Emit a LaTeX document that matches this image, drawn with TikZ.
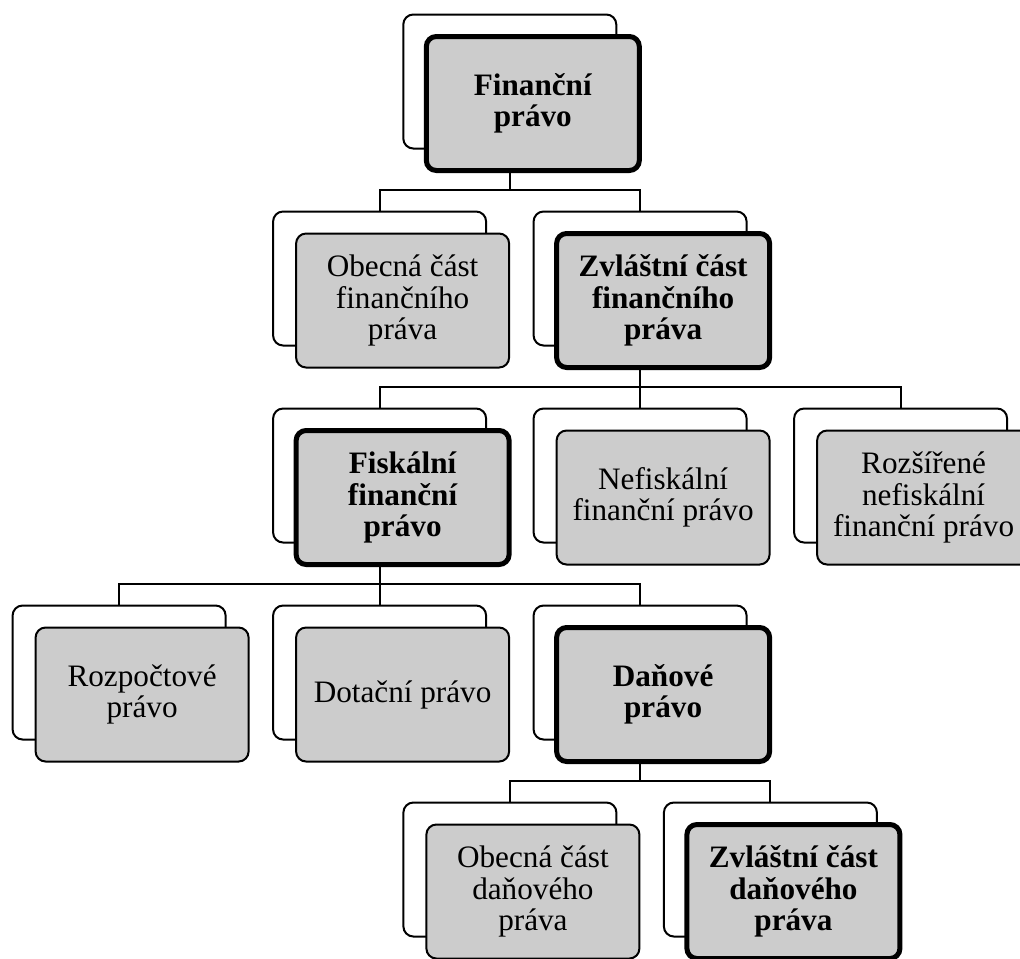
\documentclass[tikz,border=0pt]{standalone}
\usepackage{fontspec}
\setmainfont{Liberation Serif}
\usepackage{xcolor}
\usepackage{tikz}
\usetikzlibrary{positioning, calc}

\definecolor{boxgray}{RGB}{204,204,204}

\begin{document}
\begin{tikzpicture}[node distance=31.5pt and 23.75pt]
	\tikzset{back/.style={draw, rectangle, rounded corners=5pt, line width=1pt, fill=white, minimum width=106.5pt, minimum height=67pt, inner sep=0pt, outer sep=0pt}}
	\tikzset{front/.style={back, fill=boxgray, align=center, font=\fontsize{15.6}{15.8}\selectfont}}
	\tikzset{mainfront/.style={front, line width=2.5pt, font=\fontsize{15.6}{15.8}\selectfont\bfseries}}
	\tikzset{conn/.style={line width=1pt}}

	\useasboundingbox (0,0) rectangle (510pt,-479pt);
	\clip (0,0) rectangle (510pt,-479pt);

	% Level 0
	\node (fin-b) [back] at (254.9pt,-40.75pt) {};
	\node (fin) [mainfront] at ([shift={(11.5pt,-11pt)}]fin-b) {Finanční\\právo};

	% Level 1
	\node (obec-b) [back, below=of fin-b, xshift=-65.1pt] {};
	\node (obec) [front] at ([shift={(11.5pt,-11pt)}]obec-b) {Obecná část\\finančního\\práva};
	\node (zvl-b) [back, right=of obec-b] {};
	\node (zvl) [mainfront] at ([shift={(11.5pt,-11pt)}]zvl-b) {Zvláštní část\\finančního\\práva};

	% Level 2
	\node (fisk-b) [back, below=of obec-b] {};
	\node (fisk) [mainfront] at ([shift={(11.5pt,-11pt)}]fisk-b) {Fiskální\\finanční\\právo};
	\node (nefisk-b) [back, right=of fisk-b] {};
	\node (nefisk) [front] at ([shift={(11.5pt,-11pt)}]nefisk-b) {Nefiskální\\finanční právo};
	\node (rozs-b) [back, right=of nefisk-b] {};
	\node (rozs) [front] at ([shift={(11.5pt,-11pt)}]rozs-b) {Rozšířené\\nefiskální\\finanční právo};

	% Level 3
	\node (dot-b) [back, below=of fisk-b] {};
	\node (dot) [front] at ([shift={(11.5pt,-11pt)}]dot-b) {Dotační právo};
	\node (rozp-b) [back, left=of dot-b] {};
	\node (rozp) [front] at ([shift={(11.5pt,-11pt)}]rozp-b) {Rozpočtové\\právo};
	\node (dan-b) [back, right=of dot-b] {};
	\node (dan) [mainfront] at ([shift={(11.5pt,-11pt)}]dan-b) {Daňové\\právo};

	% Level 4
	\node (obdan-b) [back, below=of dan-b, xshift=-65.1pt] {};
	\node (obdan) [front] at ([shift={(11.5pt,-11pt)}]obdan-b) {Obecná část\\daňového\\práva};
	\node (zvdan-b) [back, right=of obdan-b] {};
	\node (zvdan) [mainfront] at ([shift={(11.5pt,-11pt)}]zvdan-b) {Zvláštní část\\daňového\\práva};

	% Connectors
	\draw [conn] (fin-b |- fin.south) -- ++(0,-9.75pt) -| (obec-b.north);
	\draw [conn] (fin-b |- fin.south) -- ++(0,-9.75pt) -| (zvl-b.north);

	\draw [conn] (zvl-b |- zvl.south) -- ++(0,-9.75pt) -| (fisk-b.north);
	\draw [conn] (zvl-b |- zvl.south) -- ++(0,-9.75pt) -| (nefisk-b.north);
	\draw [conn] (zvl-b |- zvl.south) -- ++(0,-9.75pt) -| (rozs-b.north);

	\draw [conn] (fisk-b |- fisk.south) -- ++(0,-9.75pt) -| (rozp-b.north);
	\draw [conn] (fisk-b |- fisk.south) -- ++(0,-9.75pt) -| (dot-b.north);
	\draw [conn] (fisk-b |- fisk.south) -- ++(0,-9.75pt) -| (dan-b.north);

	\draw [conn] (dan-b |- dan.south) -- ++(0,-9.75pt) -| (obdan-b.north);
	\draw [conn] (dan-b |- dan.south) -- ++(0,-9.75pt) -| (zvdan-b.north);

\end{tikzpicture}
\end{document}
